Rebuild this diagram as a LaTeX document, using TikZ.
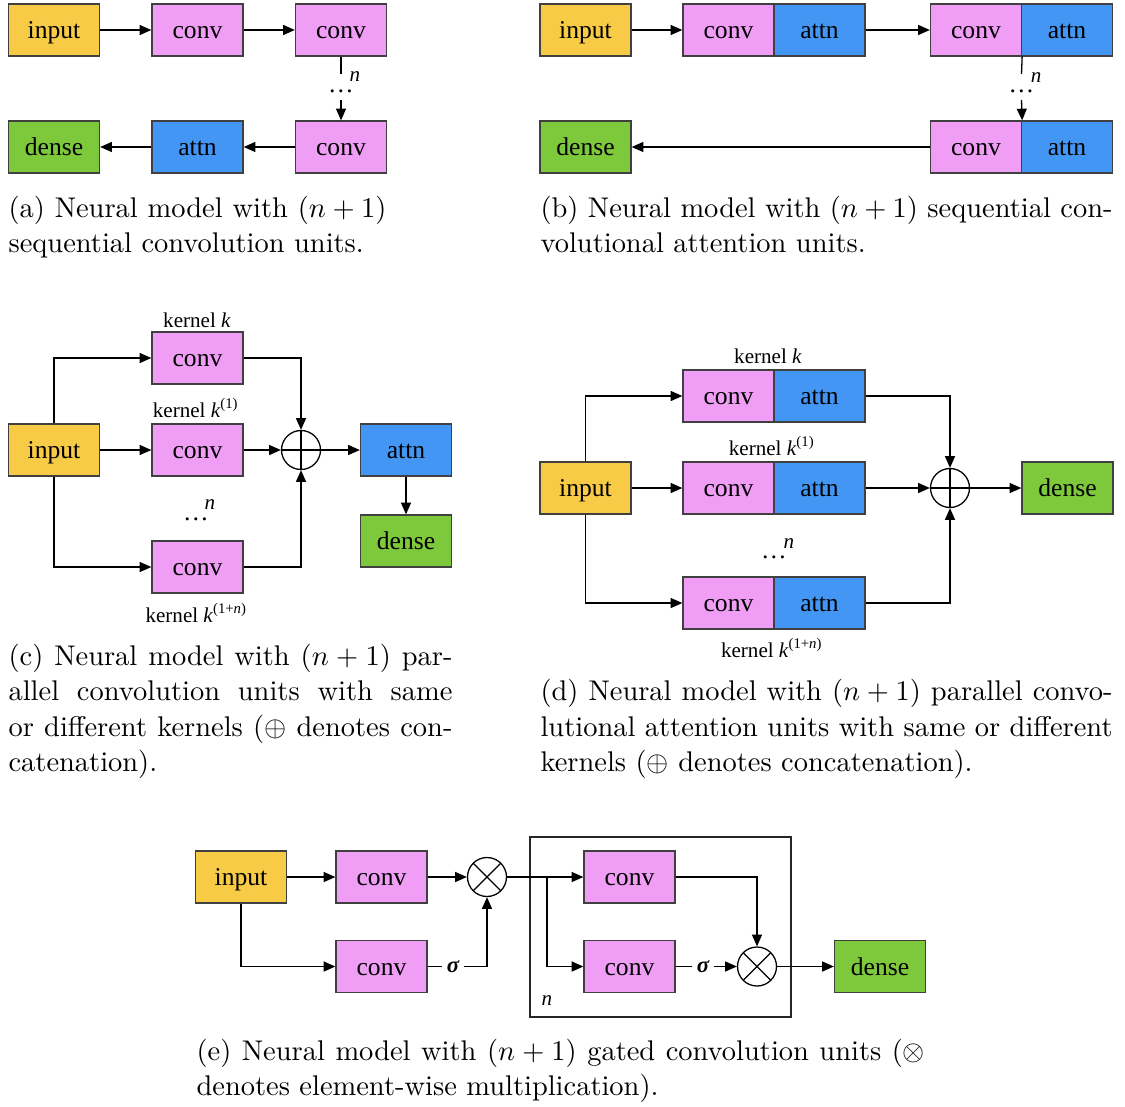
\documentclass[tikz,border=0pt]{standalone}
\usepackage{fontspec}
\newfontfamily\tnr{Liberation Serif}
\usetikzlibrary{arrows.meta}
\definecolor{cin}{RGB}{247,203,69}
\definecolor{cconv}{RGB}{240,158,245}
\definecolor{cattn}{RGB}{67,150,243}
\definecolor{cdense}{RGB}{126,200,59}
\begin{document}
\begin{tikzpicture}[x=0.3514pt,y=-0.3514pt,
  box/.style={draw=black!75, line width=0.45pt, minimum width=31.98pt, minimum height=18.27pt, inner sep=0pt, text height=6.5pt, text depth=0.5pt, font=\tnr\fontsize{9}{10}\selectfont},
  inbox/.style={box, fill=cin},
  convbox/.style={box, fill=cconv},
  attnbox/.style={box, fill=cattn},
  densebox/.style={box, fill=cdense},
  ln/.style={line width=0.45pt},
  arr/.style={ln, -{Triangle[length=4.1pt,width=3.5pt]}},
  opl/.style={circle, draw, line width=0.45pt, minimum size=13.7pt, inner sep=0pt, fill=white,
    path picture={\draw[line width=0.45pt] (path picture bounding box.north) -- (path picture bounding box.south) (path picture bounding box.west) -- (path picture bounding box.east);}},
  otm/.style={circle, draw, line width=0.45pt, minimum size=13.7pt, inner sep=0pt, fill=white,
    path picture={\draw[line width=0.45pt] (path picture bounding box.north west) -- (path picture bounding box.south east) (path picture bounding box.north east) -- (path picture bounding box.south west);}},
  klab/.style={anchor=base, inner sep=0pt, font=\tnr\fontsize{7.4}{9}\selectfont},
  nlab/.style={inner sep=0pt, font=\tnr\itshape\fontsize{7.4}{9}\selectfont},
  dotlab/.style={anchor=base, inner sep=0pt, font=\tnr\fontsize{9}{10}\selectfont},
  sig/.style={inner sep=1.6pt, font=\tnr\bfseries\itshape\fontsize{8}{9}\selectfont},
  captext/.style={anchor=base west, inner sep=0pt, font=\fontsize{10}{12}\selectfont},
  framebox/.style={line width=0.9pt, draw=black!85}
]
\fill[white] (0,0) rectangle (1125,1106);
\useasboundingbox (0,0) rectangle (1125,1106);

% ---------------- (a)
\node[inbox] (a1) at (54,30) {input};
\node[convbox] (a2) at (197.5,30) {conv};
\node[convbox] (a3) at (341,30) {conv};
\node[convbox] (a4) at (341,147) {conv};
\node[attnbox] (a5) at (197.5,147) {attn};
\node[densebox] (a6) at (54,147) {dense};
\coordinate (a3d) at (341,74);
\coordinate (a4u) at (341,100);
\node[dotlab] (adots) at (341,93) {…};
\node[nlab] (an) at (355,77) {n};
\draw[arr] (a1) -- (a2);
\draw[arr] (a2) -- (a3);
\draw[ln] (a3) -- (a3d);
\draw[arr] (a4u) -- (a4);
\draw[arr] (a4) -- (a5);
\draw[arr] (a5) -- (a6);
\node[captext] (capa1) at (8,217) {\makebox[132.8pt][s]{(a) Neural model with $(n+1)$}};
\node[captext] (capa2) at (8,252.5) {sequential convolution units.};

% ---------------- (b)
\node[inbox] (b1) at (585.5,30) {input};
\node[convbox] (b2c) at (728.5,30) {conv};
\node[attnbox] (b2a) at (819.5,30) {attn};
\node[convbox] (b3c) at (976,30) {conv};
\node[attnbox] (b3a) at (1067,30) {attn};
\node[convbox] (b4c) at (976,147) {conv};
\node[attnbox] (b4a) at (1067,147) {attn};
\node[densebox] (b5) at (585.5,147) {dense};
\coordinate (b3d) at (1021.5,74);
\coordinate (b4u) at (1021.5,100);
\node[dotlab] (bdots) at (1021.5,93) {…};
\node[nlab] (bn) at (1036,78) {n};
\draw[arr] (b1) -- (b2c);
\draw[arr] (b2a) -- (b3c);
\draw[ln] (b3c.south east) -- (b3d);
\draw[arr] (b4u) -- (b4c.north east);
\draw[arr] (b4c) -- (b5);
\node[captext] (capb1) at (540,217) {\makebox[201pt][s]{(b) Neural model with $(n+1)$ sequential con-}};
\node[captext] (capb2) at (540,252.5) {volutional attention units.};

% ---------------- (c)
\node[inbox] (cin) at (54,450) {input};
\node[convbox] (ck1) at (197.5,358) {conv};
\node[convbox] (ck2) at (197.5,450) {conv};
\node[convbox] (ck3) at (197.5,567) {conv};
\node[opl] (cplus) at (301,450) {};
\node[attnbox] (cat) at (406,450) {attn};
\node[densebox] (cde) at (406,541) {dense};
\node[klab] (ckl1) at (197,327) {kernel \textit{k}};
\node[klab] (ckl2) at (196,417) {kernel \textit{k}\textsuperscript{(1)}};
\node[klab] (ckl3) at (196.5,622) {kernel \textit{k}\textsuperscript{(1+\textit{n})}};
\node[dotlab] (cdots) at (196,520) {…};
\node[nlab] (cn) at (210,505) {n};
\draw[arr] (cin.north) |- (ck1.west);
\draw[arr] (cin) -- (ck2);
\draw[arr] (cin.south) |- (ck3.west);
\draw[arr] (ck1.east) -| (cplus.north);
\draw[arr] (ck2) -- (cplus);
\draw[arr] (ck3.east) -| (cplus.south);
\draw[arr] (cplus) -- (cat);
\draw[arr] (cat) -- (cde);
\node[captext] (capc1) at (8,665) {\makebox[156pt][s]{(c) Neural model with $(n+1)$ par-}};
\node[captext] (capc2) at (8,700.5) {\makebox[156pt][s]{allel convolution units with same}};
\node[captext] (capc3) at (8,736) {\makebox[156pt][s]{or different kernels ($\oplus$ denotes con-}};
\node[captext] (capc4) at (8,771.5) {catenation).};

% ---------------- (d)
\node[inbox] (din) at (585.5,488) {input};
\node[convbox] (dtc) at (728.5,396) {conv};
\node[attnbox] (dta) at (819.5,396) {attn};
\node[convbox] (dmc) at (728.5,488) {conv};
\node[attnbox] (dma) at (819.5,488) {attn};
\node[convbox] (dbc) at (728.5,603) {conv};
\node[attnbox] (dba) at (819.5,603) {attn};
\node[opl] (dplus) at (950,488) {};
\node[densebox] (dde) at (1067.5,488) {dense};
\node[klab] (dkl1) at (768,363) {kernel \textit{k}};
\node[klab] (dkl2) at (772,455) {kernel \textit{k}\textsuperscript{(1)}};
\node[klab] (dkl3) at (772,657) {kernel \textit{k}\textsuperscript{(1+\textit{n})}};
\node[dotlab] (ddots) at (774,558) {…};
\node[nlab] (dn) at (789,544) {n};
\draw[arr] (din.north) |- (dtc.west);
\draw[arr] (din) -- (dmc);
\draw[arr] (din.south) |- (dbc.west);
\draw[arr] (dta.east) -| (dplus.north);
\draw[arr] (dma) -- (dplus);
\draw[arr] (dba.east) -| (dplus.south);
\draw[arr] (dplus) -- (dde);
\node[captext] (capd1) at (540,700.5) {\makebox[201pt][s]{(d) Neural model with $(n+1)$ parallel convo-}};
\node[captext] (capd2) at (540,736) {\makebox[201pt][s]{lutional attention units with same or different}};
\node[captext] (capd3) at (540,771.5) {kernels ($\oplus$ denotes concatenation).};

% ---------------- (e)
\draw[framebox] (530,837) rectangle (791,1017);
\node[inbox] (ein) at (241,877) {input};
\node[convbox] (ec1) at (381.5,877) {conv};
\node[otm] (ex1) at (487,877) {};
\node[convbox] (ec2) at (381.5,966.5) {conv};
\node[sig] (sig1) at (453,966.5) {σ};
\node[convbox] (ec3) at (629.5,877) {conv};
\node[convbox] (ec4) at (629.5,966.5) {conv};
\node[sig] (sig2) at (703,966.5) {σ};
\node[otm] (ex2) at (757,966.5) {};
\node[densebox] (ede) at (880,966.5) {dense};
\node[nlab] (en) at (547,1001) {n};
\coordinate (eb) at (547,877);
\draw[arr] (ein) -- (ec1);
\draw[arr] (ec1) -- (ex1);
\draw[arr] (ein.south) |- (ec2.west);
\draw[ln] (ec2) -- (sig1);
\draw[arr] (sig1.east) -| (ex1.south);
\draw[arr] (ex1) -- (ec3);
\draw[arr] (eb) |- (ec4.west);
\draw[arr] (ec3.east) -| (ex2.north);
\draw[ln] (ec4) -- (sig2);
\draw[arr] (sig2) -- (ex2);
\draw[arr] (ex2) -- (ede);
\node[captext] (cape1) at (196,1060) {\makebox[256pt][s]{(e) Neural model with $(n+1)$ gated convolution units ($\otimes$}};
\node[captext] (cape2) at (196,1095.5) {denotes element-wise multiplication).};
\end{tikzpicture}
\end{document}
